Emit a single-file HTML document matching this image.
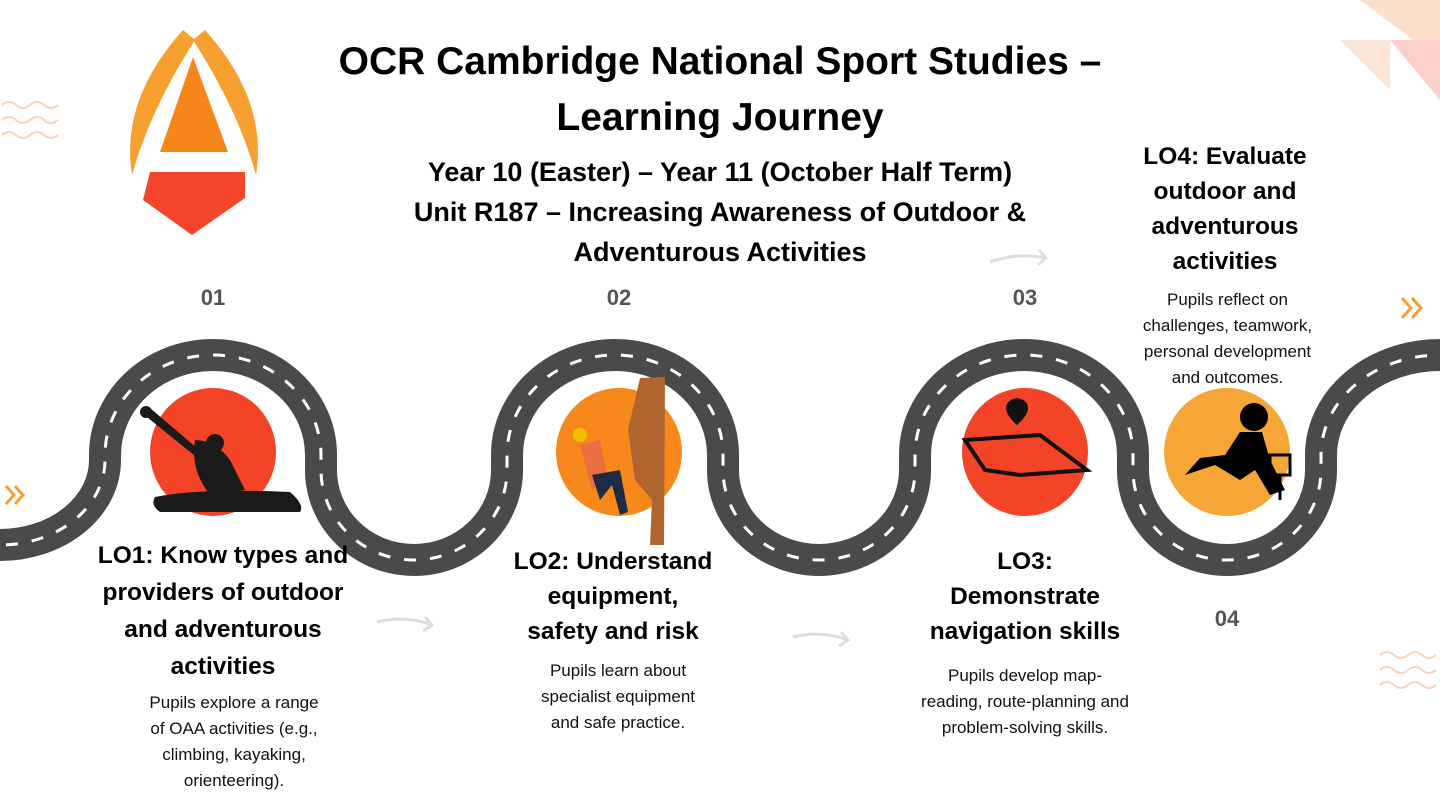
<!DOCTYPE html>
<html><head><meta charset="utf-8"><style>
html,body{margin:0;padding:0;background:#fff;}
body{width:1440px;height:810px;position:relative;overflow:hidden;font-family:"Liberation Sans",sans-serif;color:#000;}
.t{position:absolute;text-align:center;font-weight:bold;white-space:nowrap;}
.d{position:absolute;text-align:center;font-size:17px;line-height:26px;color:#111;white-space:nowrap;}
.n{position:absolute;font-weight:bold;font-size:22px;color:#555;width:60px;text-align:center;}
</style></head><body>
<svg width="1440" height="810" style="position:absolute;left:0;top:0">
<path d="M183 30 Q120 100 132 175 Q150 110 195 40 Z" fill="#f7a030"/>
<path d="M205 30 Q268 100 256 175 Q238 110 193 40 Z" fill="#f7a030"/>
<path d="M193 57 L160 152 L228 152 Z" fill="#f7861a"/>
<path d="M150 172 L245 172 L245 198 L192 235 L143 200 Z" fill="#f4442a"/>
<g fill="none" stroke="#f9d2b8" stroke-width="2">
<path d="M2 105 q7-6 14 0 t14 0 t14 0 t14 0"/><path d="M2 120 q7-6 14 0 t14 0 t14 0 t14 0"/><path d="M2 135 q7-6 14 0 t14 0 t14 0 t14 0"/>
<path d="M1380 655 q7-6 14 0 t14 0 t14 0 t14 0"/><path d="M1380 670 q7-6 14 0 t14 0 t14 0 t14 0"/><path d="M1380 685 q7-6 14 0 t14 0 t14 0 t14 0"/>
</g>
<path d="M1360 0 L1440 0 L1440 60 Z" fill="#fde0cc"/>
<path d="M1390 40 L1440 40 L1440 100 Z" fill="#fbd0c8"/>
<path d="M1340 40 L1390 40 L1390 90 Z" fill="#fde5d8"/>
<path d="M-20 545 L0 545 A105 85 0 0 0 105 460 L105 455 A108 100 0 0 1 321 455 L321 470 A93 90 0 0 0 507 470 L507 455 A108 100 0 0 1 723 455 L723 470 A96 90 0 0 0 915 470 L915 455 A109 100 0 0 1 1133 455 L1133 470 A94 90 0 0 0 1321 470 L1321 455 A119 100 0 0 1 1440 355 L1460 355" fill="none" stroke="#4a4a4a" stroke-width="32"/>
<path d="M-20 545 L0 545 A105 85 0 0 0 105 460 L105 455 A108 100 0 0 1 321 455 L321 470 A93 90 0 0 0 507 470 L507 455 A108 100 0 0 1 723 455 L723 470 A96 90 0 0 0 915 470 L915 455 A109 100 0 0 1 1133 455 L1133 470 A94 90 0 0 0 1321 470 L1321 455 A119 100 0 0 1 1440 355 L1460 355" fill="none" stroke="#fff" stroke-width="3" stroke-dasharray="12 14"/>
<ellipse cx="213" cy="452" rx="63" ry="64" fill="#f44428"/>
<ellipse cx="619" cy="452" rx="63" ry="64" fill="#f7891c"/>
<ellipse cx="1025" cy="452" rx="63" ry="64" fill="#f44428"/>
<ellipse cx="1227" cy="452" rx="63" ry="64" fill="#f6a637"/>
<path d="M142 413 L150 408 L205 455 L200 460 Z" fill="#1a1a1a"/>
<circle cx="146" cy="412" r="6" fill="#1a1a1a"/>
<circle cx="215" cy="443" r="9" fill="#1a1a1a"/>
<path d="M195 440 Q215 440 230 460 L245 490 L210 495 Q190 470 195 440 Z" fill="#1a1a1a"/>
<path d="M155 497 Q200 488 290 492 Q305 505 300 512 L160 512 Q150 505 155 497 Z" fill="#1a1a1a"/>
<path d="M640 378 L665 377 L664 545 L650 545 L652 500 L635 480 L628 430 Z" fill="#b06530"/>
<circle cx="580" cy="435" r="7" fill="#f0c000"/>
<path d="M580 445 L600 440 L608 480 L592 490 Z" fill="#e97042"/>
<path d="M592 475 L620 470 L628 512 L620 515 L612 485 L600 500 Z" fill="#1f2a44"/>
<path d="M965 440 L1040 435 L1087 470 L1020 475 L985 470 Z" fill="none" stroke="#111" stroke-width="4"/>
<path d="M1017 425 C1000 410 1005 400 1017 398 C1029 400 1034 410 1017 425 Z" fill="#111"/>
<circle cx="1254" cy="417" r="14" fill="#000"/>
<path d="M1240 432 L1262 432 L1270 460 L1285 490 L1270 495 L1255 470 L1240 480 L1215 465 L1185 475 L1200 458 L1225 455 Z" fill="#000"/>
<rect x="1270" y="455" width="20" height="20" fill="none" stroke="#000" stroke-width="3"/>
<path d="M1280 475 L1280 500" stroke="#000" stroke-width="3"/>
<g fill="none" stroke="#ddd" stroke-width="3">
<path d="M377 622 Q405 615 432 625"/><path d="M425 617 L432 625 L423 631"/>
<path d="M793 637 Q820 630 848 640"/><path d="M841 632 L848 640 L839 646"/>
<path d="M990 262 Q1018 252 1046 258"/><path d="M1039 250 L1046 258 L1038 265"/>
</g>
<g fill="none" stroke="#f7a030" stroke-width="3">
<path d="M6 486 L14 495 L6 504 M15 486 L23 495 L15 504"/>
<path d="M1402 298 L1411 308 L1402 318 M1412 298 L1421 308 L1412 318"/>
</g>
</svg>
<div class="t" style="left:270px;top:34px;width:900px;font-size:39px;line-height:56px;">OCR Cambridge National Sport Studies –<br>Learning Journey</div>
<div class="t" style="left:370px;top:152px;width:700px;font-size:27px;line-height:40px;">Year 10 (Easter) – Year 11 (October Half Term)<br>Unit R187 – Increasing Awareness of Outdoor &amp;<br>Adventurous Activities</div>
<div class="n" style="left:183px;top:285px;">01</div>
<div class="n" style="left:589px;top:285px;">02</div>
<div class="n" style="left:995px;top:285px;">03</div>
<div class="n" style="left:1197px;top:606px;">04</div>
<div class="t" style="left:73px;top:537px;width:300px;font-size:24.5px;line-height:37px;">LO1: Know types and<br>providers of outdoor<br>and adventurous<br>activities</div>
<div class="d" style="left:134px;top:690px;width:200px;">Pupils explore a range<br>of OAA activities (e.g.,<br>climbing, kayaking,<br>orienteering).</div>
<div class="t" style="left:488px;top:544px;width:250px;font-size:24.5px;line-height:35px;">LO2: Understand<br>equipment,<br>safety and risk</div>
<div class="d" style="left:518px;top:658px;width:200px;">Pupils learn about<br>specialist equipment<br>and safe practice.</div>
<div class="t" style="left:900px;top:544px;width:250px;font-size:24.5px;line-height:35px;">LO3:<br>Demonstrate<br>navigation skills</div>
<div class="d" style="left:900px;top:663px;width:250px;">Pupils develop map-<br>reading, route-planning and<br>problem-solving skills.</div>
<div class="t" style="left:1110px;top:139px;width:230px;font-size:24.5px;line-height:35px;">LO4: Evaluate<br>outdoor and<br>adventurous<br>activities</div>
<div class="d" style="left:1125px;top:287px;width:205px;">Pupils reflect on<br>challenges, teamwork,<br>personal development<br>and outcomes.</div>
</body></html>
